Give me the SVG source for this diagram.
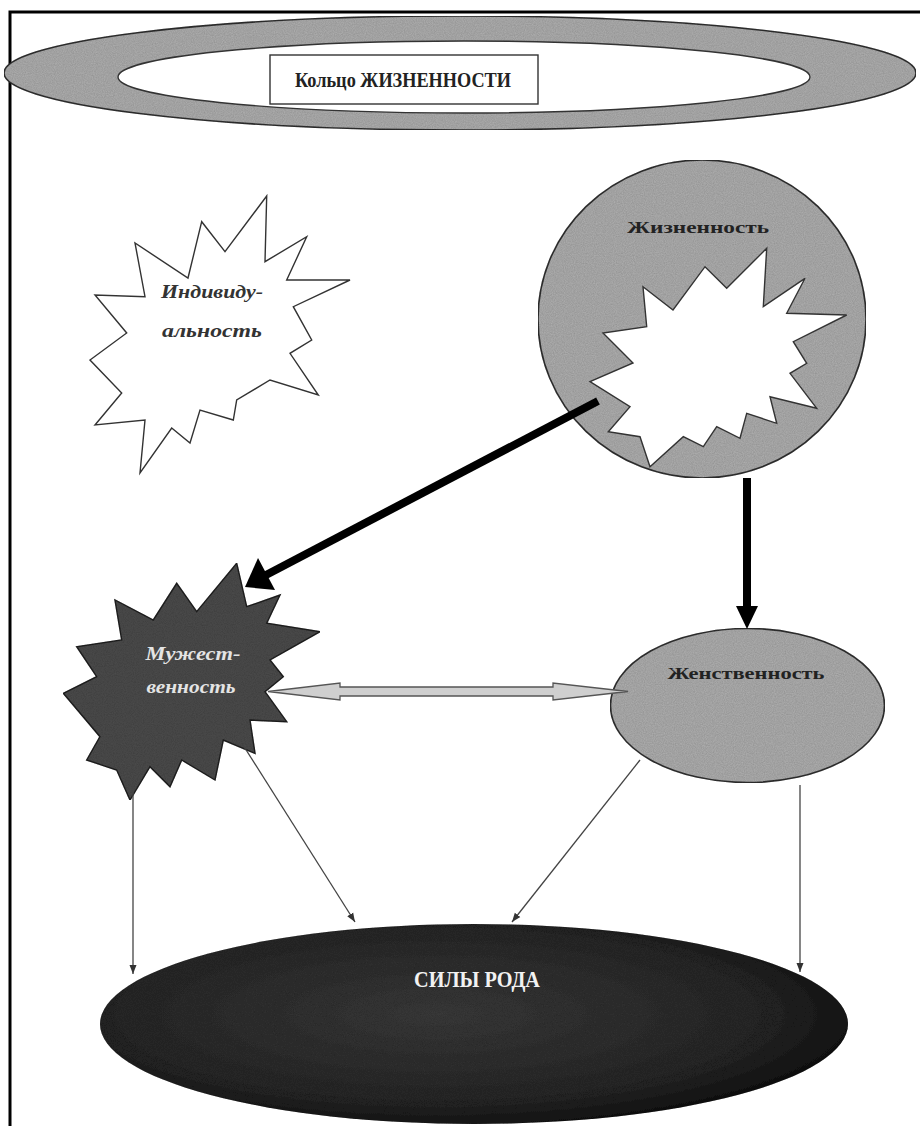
<svg xmlns="http://www.w3.org/2000/svg" width="920" height="1126" viewBox="0 0 920 1126">
<style>
.frame{fill:none;stroke:#000;stroke-width:3}
.gray{fill:#b0b0b0;stroke:#333;stroke-width:1.6}
.white{fill:#fff;stroke:#333;stroke-width:1.4}
.lbl{font-family:"Liberation Serif","Times New Roman",serif;font-weight:bold;fill:#222}
.ital{font-family:"Liberation Serif","Times New Roman",serif;font-weight:bold;font-style:italic}
.thin{stroke:#444;stroke-width:1.3;fill:none}
.thick{stroke:#000;stroke-width:8;fill:none}
</style>
<defs>
<marker id="ah" markerWidth="10" markerHeight="10" refX="9" refY="5" orient="auto" markerUnits="userSpaceOnUse"><path d="M0,1.5 L9,5 L0,8.5 Z" fill="#333"/></marker>
<filter id="grain" x="0" y="0" width="100%" height="100%">
<feTurbulence type="fractalNoise" baseFrequency="0.9" numOctaves="2" seed="3" result="n"/>
<feColorMatrix in="n" type="matrix" values="0 0 0 0 0  0 0 0 0 0  0 0 0 0 0  0 0 0 0.35 0" result="d"/>
<feComposite in="d" in2="SourceGraphic" operator="in" result="dm"/>
<feMerge><feMergeNode in="SourceGraphic"/><feMergeNode in="dm"/></feMerge>
</filter>
<radialGradient id="dark" cx="0.45" cy="0.45" r="0.6">
<stop offset="0" stop-color="#3c3c3c"/><stop offset="0.7" stop-color="#2a2a2a"/><stop offset="1" stop-color="#141414"/>
</radialGradient>
</defs>
<rect width="920" height="1126" fill="#fff"/>
<rect class="frame" x="10" y="12" width="920" height="1130"/>

<g id="ring">
<ellipse class="gray" cx="460" cy="73" rx="456" ry="57" filter="url(#grain)"/>
<ellipse class="white" cx="464" cy="77" rx="346" ry="36"/>
<rect x="270" y="55" width="268" height="49" fill="#fff" stroke="#333" stroke-width="1.4"/>
<text class="lbl" x="403" y="87" font-size="20" text-anchor="middle" textLength="216" lengthAdjust="spacingAndGlyphs">Кольцо ЖИЗНЕННОСТИ</text>
</g>

<g id="individuality">
<polygon class="white" points="266.7,196 265,261.7 306.7,236.7 286.7,280 350,280 293.3,306.7 311.7,340 290,353.3 318.3,395 270,380 236.7,400 233.3,420 200,410 190,443 171.7,428 140,473 145,420 95,425 121.7,393 90,360 126.7,333 95,295 145,296.7 135,243 188,278 201.7,221.7 225,251.7"/>
<text class="ital" x="212" y="298" font-size="19" fill="#333" text-anchor="middle" textLength="102" lengthAdjust="spacingAndGlyphs">Индивиду-</text>
<text class="ital" x="212" y="337" font-size="19" fill="#333" text-anchor="middle" textLength="100" lengthAdjust="spacingAndGlyphs">альность</text>
</g>

<g id="vitality">
<ellipse class="gray" cx="702" cy="319" rx="164" ry="159" filter="url(#grain)"/>
<polygon class="white" points="766.7,248.3 763.3,306.7 805,278.3 786.7,313.3 846.7,315 793.3,341.7 806.7,363.3 790,373.3 816.7,408.3 770,396.7 776.7,423.3 746.7,413.3 740,438.3 716.7,426.7 703.3,446.7 683.3,436.7 650,466.7 640,436.7 608.3,431.7 630,406.7 590,381.7 633,363 603,333 646.7,326.7 643,286.7 673,310 705,266.7 726.7,288.3"/>
<text class="lbl" x="698" y="233" font-size="17" text-anchor="middle" textLength="142" lengthAdjust="spacingAndGlyphs">Жизненность</text>
</g>

<g id="masculinity">
<polygon fill="#4e4e4e" stroke="#222" stroke-width="1.4" filter="url(#grain)" points="236.7,563.3 246.7,606.7 280,595 266.7,623.3 320,631.7 270,660 283.3,676.7 265,691.7 286.7,721.7 250,720 255,753.3 223.3,740 215,780 181.7,760 170,786.7 150,766.7 130,800 116.7,770 86.7,760 100,736.7 63.3,693.3 96.7,676.7 76.7,646.7 121.7,640 115,600 153.3,620 176.7,583.3 196.7,611.7"/>
<text class="ital" x="193" y="660" font-size="18" fill="#e4e4e4" text-anchor="middle" textLength="95" lengthAdjust="spacingAndGlyphs">Мужест-</text>
<text class="ital" x="191" y="693" font-size="18" fill="#e4e4e4" text-anchor="middle" textLength="89" lengthAdjust="spacingAndGlyphs">венность</text>
</g>

<g id="femininity">
<ellipse class="gray" cx="747.5" cy="705.5" rx="137" ry="77" filter="url(#grain)"/>
<text class="lbl" x="746" y="679" font-size="17" text-anchor="middle" textLength="157" lengthAdjust="spacingAndGlyphs">Женственность</text>
</g>

<g id="kin-forces">
<ellipse cx="474" cy="1024" rx="374" ry="100" fill="url(#dark)" filter="url(#grain)"/>
<text x="477" y="987" font-size="23" fill="#f2f2f2" font-family="Liberation Serif, Times New Roman, serif" font-weight="bold" text-anchor="middle" textLength="126" lengthAdjust="spacingAndGlyphs">СИЛЫ РОДА</text>
</g>

<g id="connectors">
<line class="thick" x1="598" y1="401" x2="266" y2="575"/>
<polygon points="245,587 258,558 275,590" fill="#000"/>
<line class="thick" x1="747" y1="478" x2="747" y2="610"/>
<polygon points="736,606 758,606 747,629" fill="#000"/>
<path d="M268,691.5 L340,683 L340,687 L553,687 L553,683 L628,691.5 L553,700 L553,696 L340,696 L340,700 Z" fill="#cfcfcf" stroke="#555" stroke-width="1.3"/>
<line class="thin" x1="133" y1="782" x2="133" y2="974" marker-end="url(#ah)"/>
<line class="thin" x1="243" y1="745" x2="355" y2="922" marker-end="url(#ah)"/>
<line class="thin" x1="640" y1="760" x2="512" y2="922" marker-end="url(#ah)"/>
<line class="thin" x1="800" y1="785" x2="800" y2="972" marker-end="url(#ah)"/>
</g>
</svg>
